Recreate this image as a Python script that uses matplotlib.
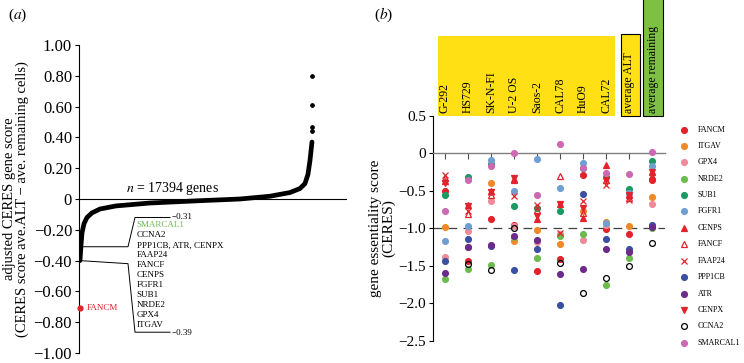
import numpy as np
import matplotlib
matplotlib.use("Agg")
import matplotlib.pyplot as plt
from matplotlib.patches import Rectangle

plt.rcParams['font.family'] = ['Liberation Serif', 'DejaVu Serif']
plt.rcParams['mathtext.fontset'] = 'stix'

# ---------------- panel (a) data ----------------
n_genes = 17394
curve_rank = [0, 75, 150, 300, 525, 900, 1500, 2699, 5248, 8997, 11995, 14245,
              15745, 16495, 16869, 17094, 17244, 17394]
curve_score = [-0.40, -0.30, -0.22, -0.16, -0.12, -0.09, -0.065, -0.045, -0.026,
               -0.011, 0.0, 0.018, 0.042, 0.068, 0.10, 0.16, 0.25, 0.37]
top_outliers = [0.80, 0.61, 0.47, 0.44]
fancm_score = -0.71
gene_list = ["SMARCAL1", "CCNA2", "PPP1CB, ATR, CENPX", "FAAP24", "FANCF", "CENPS",
             "FGFR1", "SUB1", "NRDE2", "GPX4", "ITGAV"]
range_hi, range_lo = -0.31, -0.39

# ---------------- panel (b) data ----------------
cell_lines = ["G-292", "HS729", "SK-N-FI", "U-2 OS", "Saos-2", "CAL78", "HuO9", "CAL72",
              "average ALT", "average remaining"]
genes = ["FANCM", "ITGAV", "GPX4", "NRDE2", "SUB1", "FGFR1", "CENPS", "FANCF",
         "FAAP24", "PPP1CB", "ATR", "CENPX", "CCNA2", "SMARCAL1"]
FANCM = [-0.50, -1.43, -0.87, -0.95, -1.57, -1.41, -0.29, -1.01, -1.08, -0.35]
ITGAV = [-0.98, -1.25, -0.39, -1.17, -1.02, -1.21, -0.77, -0.91, -0.97, -0.58]
GPX4 = [-1.38, -1.03, -0.63, -0.97, -1.18, -1.08, -1.16, -0.96, -0.55, -0.68]
NRDE2 = [-1.67, -1.54, -1.49, -1.11, -1.39, -1.10, -1.07, -1.76, -1.39, -1.00]
SUB1 = [-0.56, -0.31, -0.14, -0.70, -0.73, -0.77, -0.19, -0.31, -0.47, -0.10]
FGFR1 = [-1.17, -0.97, -0.09, -0.50, -0.07, -0.46, -0.13, -0.93, -0.53, -0.17]
CENPS = [-0.37, -0.69, -0.50, -0.34, -0.87, -0.68, -0.86, -0.16, -0.56, -0.25]
FANCF = [-0.33, -0.81, -0.55, -0.36, -0.75, -0.30, -0.80, -0.36, -0.60, -0.30]
FAAP24 = [-0.29, -0.77, -0.51, -0.57, -0.69, -1.06, -0.64, -0.42, -0.62, -0.30]
PPP1CB = [-1.44, -1.14, -1.23, -1.56, -1.27, -2.03, -0.54, -1.14, -1.28, -0.96]
ATR = [-1.59, -1.25, -1.22, -1.10, -1.15, -1.61, -1.54, -1.27, -1.31, -0.98]
CENPX = [-0.40, -0.70, -0.52, -0.33, -0.84, -0.68, -0.73, -0.35, -0.56, -0.25]
CCNA2 = [np.nan, -1.48, -1.56, -0.99, np.nan, -1.46, -1.86, -1.66, -1.50, -1.19]
SMARCAL1 = [-0.77, -0.35, -0.17, 0.00, -0.56, 0.12, -0.20, -0.26, -0.28, 0.02]

scores = dict(FANCM=FANCM, ITGAV=ITGAV, GPX4=GPX4, NRDE2=NRDE2, SUB1=SUB1, FGFR1=FGFR1,
              CENPS=CENPS, FANCF=FANCF, FAAP24=FAAP24, PPP1CB=PPP1CB, ATR=ATR,
              CENPX=CENPX, CCNA2=CCNA2, SMARCAL1=SMARCAL1)

red = "#e3232b"
styles = {
    "FANCM": dict(marker="o", color=red),
    "ITGAV": dict(marker="o", color="#f0892a"),
    "GPX4": dict(marker="o", color="#ee8b98"),
    "NRDE2": dict(marker="o", color="#6cbb4e"),
    "SUB1": dict(marker="o", color="#1b9a62"),
    "FGFR1": dict(marker="o", color="#6f9fd2"),
    "CENPS": dict(marker="^", color=red),
    "FANCF": dict(marker="^", color=red, mfc="none"),
    "FAAP24": dict(marker="x", color=red),
    "PPP1CB": dict(marker="o", color="#3a50a2"),
    "ATR": dict(marker="o", color="#6b2a8c"),
    "CENPX": dict(marker="v", color=red),
    "CCNA2": dict(marker="o", color="black", mfc="none"),
    "SMARCAL1": dict(marker="o", color="#cc69b2"),
}

W, H = 744, 363


def fx(x):
    return x / W


def fy(y):
    return 1 - y / H


fig = plt.figure(figsize=(W / 100, H / 100), dpi=100)

# ================= panel (a) =================
ax1 = fig.add_axes([fx(79), fy(353), fx(347 - 79), fy(45) - fy(353)])
ax1.set_ylim(-1.0, 1.0)
ax1.set_xlim(-75, 20020)
for s in ["top", "right", "bottom"]:
    ax1.spines[s].set_visible(False)
ax1.spines["left"].set_linewidth(0.8)
ax1.set_xticks([])
yt = np.arange(-1.0, 1.01, 0.2)
ax1.set_yticks(yt)
ax1.set_yticklabels(["0" if abs(v) < 1e-9 else f"{v:.2f}".replace("-", "\u2212") for v in yt])
ax1.tick_params(axis="y", labelsize=12, length=3, width=0.8, pad=2)
ax1.axhline(0, color="black", lw=0.8)

ax1.plot(curve_rank, curve_score, color="black", lw=3.4, solid_capstyle="round")
ax1.plot([n_genes] * len(top_outliers), top_outliers, "o", color="black", ms=2.4)
ax1.plot([0], [fancm_score], "o", color=red, ms=3.5, clip_on=False, zorder=5)
ax1.text(500, fancm_score, "FANCM", color=red, fontsize=6.5, va="center")

ax1.text(6900, 0.07, r"$n$ = 17394 genes", fontsize=10, ha="center", va="center")
ax1.set_ylabel("adjusted CERES gene score\n(CERES score ave.ALT \u2212 ave. remaining cells)",
               fontsize=10.5, linespacing=1.0, labelpad=3)

# bracket lines from the curve to the gene list
xa, xb, xc = 3599, 4124, 6748
ax1.plot([0, xa, xb, xc], [range_hi, range_hi, -0.12, -0.12], color="black", lw=0.7)
ax1.plot([0, xa, xb, xc], [range_lo - 0.01, -0.42, -0.865, -0.865], color="black", lw=0.7)
ax1.text(xc + 150, -0.115, "\u22120.31", fontsize=6.5, va="center")
ax1.text(xc + 150, -0.87, "\u22120.39", fontsize=6.5, va="center")
for i, g in enumerate(gene_list):
    ax1.text(xb + 120, -0.172 - i * 0.0645, g, fontsize=6.5, va="center",
             color="#6cbb4e" if g == "SMARCAL1" else "black")

fig.text(fx(8), fy(15), "($a$)", fontsize=11, va="center")

# ================= panel (b) =================
col_x0, col_dx = 445, 23
left_px, right_px = 433, 665
ax2 = fig.add_axes([fx(left_px), fy(340.7), fx(right_px - left_px), fy(116) - fy(340.7)])
ax2.set_ylim(-2.5, 0.5)
ax2.set_xlim((left_px - col_x0) / col_dx, (right_px - col_x0) / col_dx)
for s in ["top", "right"]:
    ax2.spines[s].set_visible(False)
ax2.spines["left"].set_linewidth(0.8)
ax2.spines["bottom"].set_position(("data", 0))
ax2.spines["bottom"].set_color("#808080")
ax2.spines["bottom"].set_linewidth(1.0)
xs = np.arange(len(cell_lines))
ax2.set_xticks(xs[:9])
ax2.set_xticklabels([])
ax2.tick_params(axis="x", length=4, width=0.8, color="#505050", direction="out")
ax2.set_yticks([0.5, 0, -0.5, -1.0, -1.5, -2.0, -2.5])
ax2.set_yticklabels(["0.5", "0", "\u22120.5", "\u22121.0", "\u22121.5", "\u22122.0", "\u22122.5"])
ax2.tick_params(axis="y", labelsize=11, length=3, width=0.8, pad=2)
ax2.axhline(-1.0, color="#404040", lw=0.9, ls=(0, (7, 5)), zorder=1)
ax2.set_ylabel("gene essentiality score\n(CERES)", fontsize=11, linespacing=1.0, labelpad=2)

for g in genes:
    st = styles[g]
    ms = 4.2 if st["marker"] == "o" else 4.6
    ax2.plot(xs, scores[g], ls="none", marker=st["marker"], color=st["color"],
             mfc=st.get("mfc", st["color"]), ms=ms, mew=0.9, zorder=3, clip_on=False)

# legend, drawn in figure pixels
for i, g in enumerate(genes):
    st = styles[g]
    yy = 129.5 + i * 16.4
    fig.add_artist(plt.Line2D([fx(684)], [fy(yy)], marker=st["marker"], color=st["color"],
                              mfc=st.get("mfc", st["color"]), ms=4.2, mew=0.9, ls="none"))
    fig.text(fx(698), fy(yy), g, fontsize=5.8, va="center")

# header boxes with cell line names
yellow, green = "#ffe014", "#7dc142"
fig.add_artist(Rectangle((fx(438), fy(116)), fx(615 - 438), fy(36) - fy(116),
                         facecolor=yellow, edgecolor="none", transform=fig.transFigure))
fig.add_artist(Rectangle((fx(621), fy(116)), fx(640 - 621), fy(34) - fy(116),
                         facecolor=yellow, edgecolor="black", lw=0.8, transform=fig.transFigure))
fig.add_artist(Rectangle((fx(643), fy(116)), fx(663 - 643), fy(-2) - fy(116),
                         facecolor=green, edgecolor="black", lw=0.8, transform=fig.transFigure))
for i, name in enumerate(cell_lines):
    cx = col_x0 + col_dx * i
    if i == 9:
        cx = 653
    fig.text(fx(cx), fy(113), name, rotation=90, fontsize=8.5, ha="center", va="bottom")

fig.text(fx(374), fy(15), "($b$)", fontsize=11, va="center")

fig.savefig("out.png", dpi=100)
